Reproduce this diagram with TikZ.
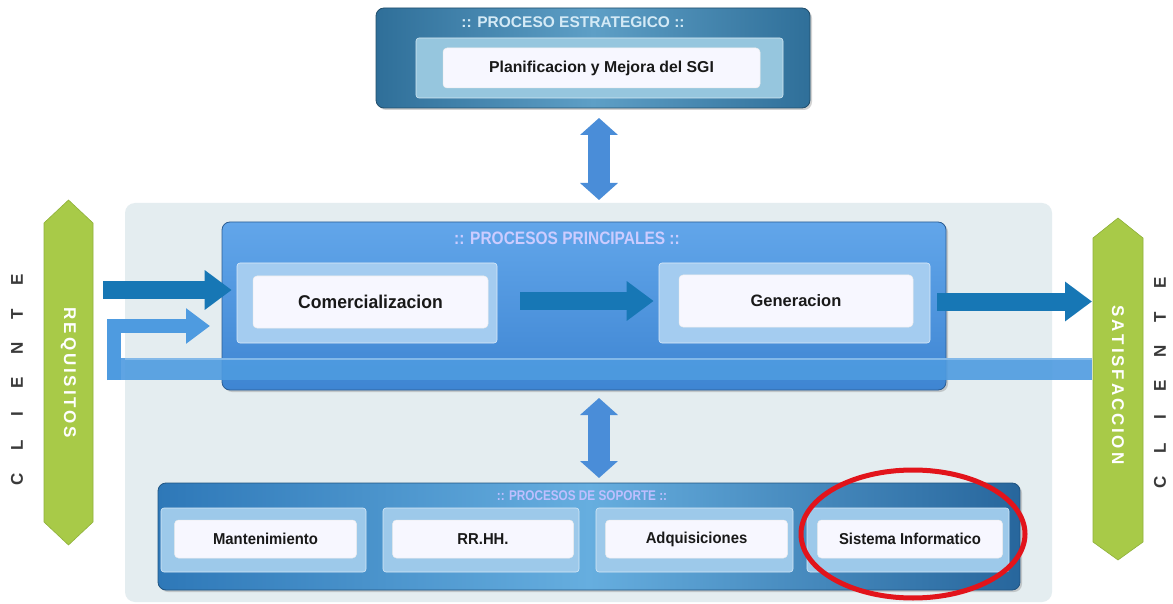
\documentclass[tikz,border=0pt]{standalone}
\usepackage{fontspec}
\setmainfont{Liberation Sans}
\usetikzlibrary{arrows.meta,shadows,positioning,calc}
\definecolor{bgpanel}{HTML}{E4EDF0}
\definecolor{topdark}{HTML}{2F6F99}
\definecolor{toplight}{HTML}{5E9FC6}
\definecolor{topinner}{HTML}{96C6DE}
\definecolor{maindark}{HTML}{3E85D2}
\definecolor{mainlight}{HTML}{62A6EA}
\definecolor{mainpanel}{HTML}{A4CCF0}
\definecolor{supdark}{HTML}{2E78B8}
\definecolor{suplight}{HTML}{66AEDF}
\definecolor{suppanel}{HTML}{9DC9EA}
\definecolor{darkarrow}{HTML}{1777B5}
\definecolor{lightarrow}{HTML}{4E9BE0}
\definecolor{dblarrow}{HTML}{4A8DD8}
\definecolor{greenbar}{HTML}{A8CA48}
\definecolor{greenedge}{HTML}{8FB13A}
\definecolor{titletxt}{HTML}{D4EAF6}
\definecolor{clientetxt}{HTML}{3A3A3A}
\definecolor{redring}{HTML}{E2141B}
\tikzset{
  x=1pt, y=-1pt,
  outerbox/.style={rounded corners=8pt, draw=#1!70!black, line width=0.8pt, drop shadow={opacity=0.35, shadow xshift=2pt, shadow yshift=-2pt}},
  panelbox/.style={rounded corners=3pt, fill=#1, draw=white!60!#1, line width=0.6pt},
  whitebox/.style={rounded corners=4pt, fill=white!97!blue, draw=white!85!gray, line width=0.5pt,
     font=\bfseries\fontsize{15.8}{17}\selectfont, text=black!90},
  boxtitle/.style={font=\bfseries\fontsize{15.5}{17}\selectfont, text=titletxt},
  blockarrow/.style={draw=darkarrow, line width=18pt, -{Triangle[width=38pt,length=27pt]}, shorten >=5pt},
  dblblock/.style={draw=dblarrow, line width=22pt, {Triangle[width=37pt,length=17pt]}-{Triangle[width=37pt,length=17pt]}},
  bartext/.style={text=white, font=\bfseries\fontsize{17}{17}\selectfont},
  clientestyle/.style={text=clientetxt, font=\bfseries\fontsize{17}{17}\selectfont},
}
\newcommand{\clientetext}{C\hspace{23pt}L\hspace{23pt}I\hspace{23pt}E\hspace{23pt}N\hspace{23pt}T\hspace{23pt}E}
\begin{document}
\begin{tikzpicture}
\useasboundingbox (0,0) rectangle (1173,604);
\fill[white] (0,0) rectangle (1173,604);

% background panel
\fill[bgpanel, rounded corners=10pt] (125,203) rectangle (1052,602);

% ---- strategic process
\path[outerbox=topdark, left color=topdark, right color=topdark, middle color=toplight] (376,8) rectangle (810,108);
\node[panelbox=topinner, minimum width=367pt, minimum height=60pt] (stratpanel) at (599.5,68) {};
\node[whitebox, minimum width=317pt, minimum height=40pt] (plan) at (601.5,68) {Planificacion y Mejora del SGI};
\node[boxtitle] (strattitle) at (573,22) {:: PROCESO ESTRATEGICO ::};
\coordinate (stratbottom) at (599,108);

% ---- main processes
\path[outerbox=maindark, top color=mainlight, bottom color=maindark] (222,222) rectangle (946,390);
\node[boxtitle, font=\bfseries\fontsize{18}{18}\selectfont, text=white!80!blue] (maintitle) at (567,238) {\scalebox{0.86}[1]{:: PROCESOS PRINCIPALES ::}};
\coordinate (maintop) at (599,222);
\coordinate (mainbottom) at (599,390);

\node[panelbox=mainpanel, minimum width=260pt, minimum height=80pt] (comPanel) at (367,303) {};
\node[whitebox, font=\bfseries\fontsize{18.5}{19}\selectfont, minimum width=235pt, minimum height=52pt] (com) at (370.5,302) {\scalebox{0.95}[1]{Comercializacion}};
\node[panelbox=mainpanel, minimum width=271pt, minimum height=80pt] (genPanel) at (794.5,303) {};
\node[whitebox, font=\bfseries\fontsize{16.5}{18}\selectfont, minimum width=234pt, minimum height=52pt] (gen) at (796,301) {Generacion};

% ---- support processes
\path[outerbox=supdark, left color=supdark, right color=supdark!85!black, middle color=suplight] (158,483) rectangle (1020,590);
\node[boxtitle, font=\bfseries\fontsize{14}{14}\selectfont, text=white!75!blue] (suptitle) at (582,496) {\scalebox{0.84}[1]{:: PROCESOS DE SOPORTE ::}};
\coordinate (suptop) at (599,483);

\foreach \nm/\cx/\pw/\ww/\txt in {mant/263.5/205/182/Mantenimiento, rrhh/481/196/181/RR.HH., adq/694.5/197/182/Adquisiciones, sis/908/202/185/Sistema Informatico}{
  \node[panelbox=suppanel, minimum width=\pw pt, minimum height=64pt] (\nm Panel) at (\cx,540) {};
  \node[whitebox, minimum width=\ww pt, minimum height=38pt] (\nm) at (\cx+2,539) {\scalebox{0.94}[1]{\txt}};
}

% ---- green bars
\fill[greenbar, draw=greenedge, line width=0.6pt] (68.5,200) -- (93,223) -- (93,522) -- (68.5,545) -- (44,522) -- (44,223) -- cycle;
\node[bartext, rotate=-90] (req) at (68.5,373) {R\,E\,Q\,U\,I\,S\,I\,T\,O\,S};
\coordinate (reqright) at (103,290);
\fill[greenbar, draw=greenedge, line width=0.6pt] (1118,218) -- (1143,238) -- (1143,542) -- (1118,560) -- (1093,542) -- (1093,238) -- cycle;
\node[bartext, rotate=-90] (sat) at (1118,385) {S\,A\,T\,I\,S\,F\,A\,C\,C\,I\,O\,N};
\coordinate (satleft) at (1097,301.5);

\node[clientestyle, rotate=90] (cliL) at (17,380) {\clientetext};
\node[clientestyle, rotate=90] (cliR) at (1160,383) {\clientetext};

% ---- feedback loop
\coordinate (fbstart) at (1092,369);
\coordinate (fbcorner1) at (114,369);
\coordinate (fbcorner2) at (114,326);
\coordinate (fbtip) at (210,326);
\draw[lightarrow, line width=22pt, opacity=0.9] (fbstart) -- (fbcorner1);
\draw[lightarrow, line width=14pt, -{Triangle[width=34pt,length=24pt]}] ($(fbcorner1)+(0,11)$) -- (fbcorner2) -- (fbtip);
\draw[lightarrow!70!white, line width=2pt] (125,359) -- (1092,359);

% ---- flow arrows
\draw[blockarrow] (reqright) -- (reqright -| comPanel.west);
\coordinate (midstart) at (520,301);
\draw[blockarrow] (midstart) -- (midstart -| genPanel.west);
\coordinate (outstart) at (937,301.5);
\draw[blockarrow] (outstart) -- (satleft);

% ---- double arrows
\draw[dblblock] ($(stratbottom)+(0,10)$) -- ($(maintop)+(0,-22)$);
\draw[dblblock] ($(mainbottom)+(0,8)$) -- ($(suptop)+(0,-5)$);

% ---- red ellipse
\draw[redring, line width=5pt] (913,534) ellipse [x radius=112pt, y radius=64pt];
\end{tikzpicture}
\end{document}
